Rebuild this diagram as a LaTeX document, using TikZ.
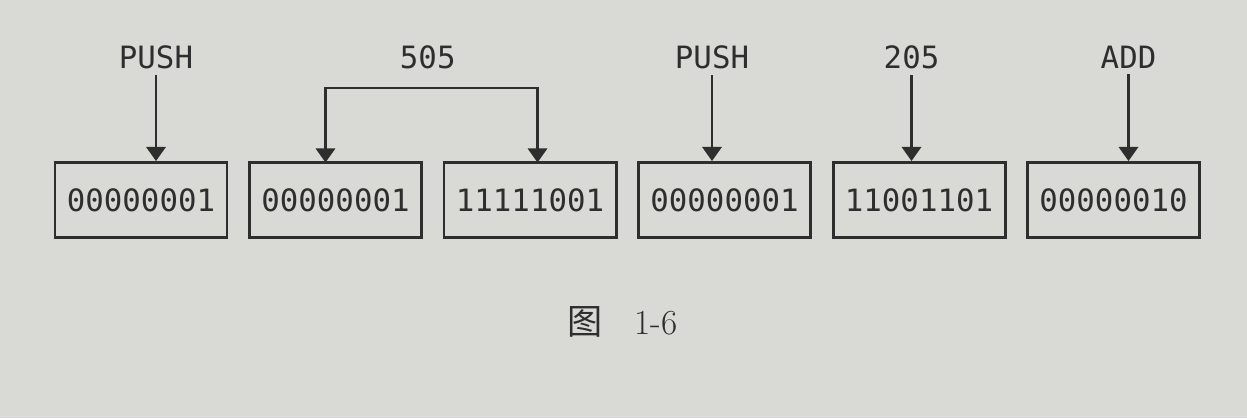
\documentclass[tikz,border=0pt]{standalone}
\usepackage{fontspec}
\usepackage{xcolor}
\usepackage{tikz}
\usetikzlibrary{shapes,arrows.meta}
\setmonofont{DejaVu Sans Mono}
\newfontfamily\cjk{Noto Sans CJK SC}
\definecolor{paper}{HTML}{D9D9D5}
\definecolor{ink}{HTML}{2E2E2E}
\tikzstyle{byte} = [rectangle, draw=ink, line width=1.7pt, minimum width=3.44cm, minimum height=1.5cm, text=ink, font=\ttfamily\fontsize{17.5}{20}\selectfont]
\tikzstyle{op} = [text=ink, font=\ttfamily\fontsize{17.5}{20}\selectfont, node distance=2.86cm]
\tikzstyle{line} = [draw=ink, line width=1.3pt, -{Triangle[width=11pt,length=8pt]}]

\begin{document}
\begin{tikzpicture}[node distance = 3.89cm, auto]
        \fill [paper] (0,0) rectangle (24.94,-8.36);
        \useasboundingbox (0,0) rectangle (24.94,-8.36);
        % Place bytes
        \node [byte] at (2.82,-4.0) (b1) {00000001};
        \node [byte, right of=b1] (b2) {00000001};
        \node [byte, right of=b2] (b3) {11111001};
        \node [byte, right of=b3] (b4) {00000001};
        \node [byte, right of=b4] (b5) {11001101};
        \node [byte, right of=b5] (b6) {00000010};
        % Place instructions
        \node [op, above of=b1, xshift=0.3cm] (push1) {PUSH};
        \path (b2) -- (b3) coordinate[midway] (mid23);
        \node [op, above of=mid23, xshift=-0.1cm] (arg1) {505};
        \node [op, above of=b4, xshift=-0.25cm] (push2) {PUSH};
        \node [op, above of=b5, xshift=-0.15cm] (arg2) {205};
        \node [op, above of=b6, xshift=0.3cm] (add) {ADD};
        \coordinate [below of=arg1, node distance=0.62cm] (brk);
        \coordinate [above of=b2, xshift=-0.2cm, node distance=0.75cm] (in2);
        \coordinate [above of=b3, xshift=0.15cm, node distance=0.75cm] (in3);
        % Draw edges
        \path [line] (push1) -- (push1 |- b1.north);
        \path [line, {Triangle[width=11pt,length=8pt]}-{Triangle[width=11pt,length=8pt]}] (in2) |- (brk) -| (in3);
        \path [line] (push2) -- (push2 |- b4.north);
        \path [line] (arg2) -- (arg2 |- b5.north);
        \path [line] (add) -- (add |- b6.north);
        % Caption
        \node [text=ink, font=\fontsize{20}{24}\selectfont] at (12.45,-6.44) (cap) {{\cjk 图}\hspace{0.9em}1-6};
\end{tikzpicture}
\end{document}
